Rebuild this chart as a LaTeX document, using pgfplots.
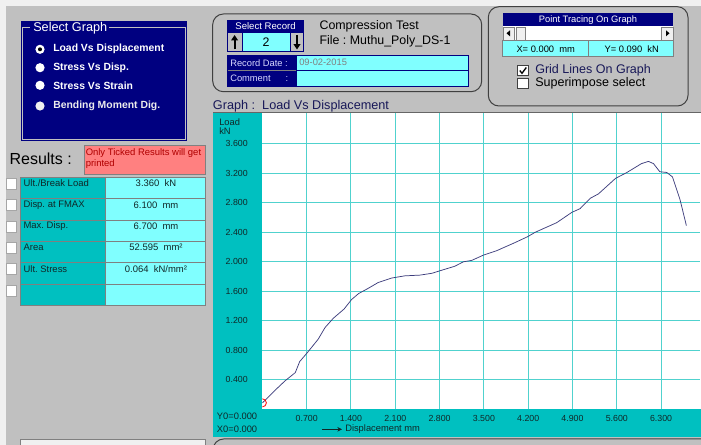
\documentclass[border=0pt]{standalone}
\usepackage{pgfplots}
\pgfplotsset{compat=1.18}
\usepackage{fontspec}
\setmainfont{Liberation Sans}
\usetikzlibrary{arrows.meta}
\frenchspacing

\definecolor{winbg}{RGB}{192,192,192}
\definecolor{winlight}{RGB}{240,240,240}
\definecolor{navy}{RGB}{0,0,128}
\definecolor{tealpanel}{RGB}{0,192,192}
\definecolor{cyanfield}{RGB}{128,255,255}
\definecolor{pinkbox}{RGB}{255,128,128}
\definecolor{gridcyan}{RGB}{80,210,206}
\definecolor{curve}{RGB}{60,60,124}
\definecolor{darktext}{RGB}{16,40,40}
\definecolor{frame}{RGB}{64,64,64}
\definecolor{graphtitle}{RGB}{24,24,88}
\definecolor{note}{RGB}{176,0,0}

\newcommand{\fs}[1]{\fontsize{#1}{#1}\selectfont}

\begin{document}
\begin{tikzpicture}[x=0.75pt,y=-0.75pt]
\useasboundingbox (0,0) rectangle (701,445);
\clip (0,0) rectangle (701,445);
\fill[winlight] (0,0) rectangle (701,445);
\fill[winbg] (6,6) rectangle (701,445);

% ---- Select Graph group ----
\fill[navy] (20.7,21) rectangle (187.3,141);
\draw[winbg, line width=0.75pt] (30,28) -- (22.5,28) -- (22.5,139.3) -- (185.5,139.3) -- (185.5,28) -- (109,28);
\node[anchor=west, text=white, inner sep=0pt, font=\fs{9.5}] at (33,28) {Select Graph};
\foreach \yy/\lbl in {49.3/Load Vs Displacement, 67.7/Stress Vs Disp., 85.3/Stress Vs Strain}{
  \fill[white] (40,\yy) circle (4.6);
  \node[anchor=west, text=white, inner sep=0pt, font=\fs{7.8}\bfseries] at (53,\yy) {\lbl};
}
\fill[black] (40,49.3) circle (2);
\fill[white!88!gray] (40,106) circle (4.6);
\node[anchor=west, text=white!85!gray, inner sep=0pt, font=\fs{7.8}\bfseries] at (53,106) {Bending Moment Dig.};

% ---- Record panel ----
\draw[frame, rounded corners=8pt, line width=0.75pt] (212.7,14) rectangle (481.7,91.7);
\fill[navy] (226.7,20) rectangle (304.3,51.7);
\node[text=white, inner sep=0pt, font=\fs{7.2}] at (265.5,26.2) {Select Record};
\fill[winbg] (227.7,33.3) rectangle (241.5,50.7);
\fill[cyanfield] (242.5,33.3) rectangle (289.5,50.7);
\fill[winbg] (290.5,33.3) rectangle (303.3,50.7);
\draw[-{Triangle[length=4pt,width=5pt]}, line width=1.4pt] (234.6,49.5) -- (234.6,35);
\draw[-{Triangle[length=4pt,width=5pt]}, line width=1.4pt] (297,35) -- (297,49.5);
\node[inner sep=0pt, font=\fs{9.3}] at (266,42.5) {2};
\node[anchor=west, inner sep=0pt, font=\fs{9.3}] at (319.3,26.7) {Compression Test};
\node[anchor=west, inner sep=0pt, font=\fs{9.3}] at (319.3,41) {File : Muthu\_Poly\_DS-1};
\fill[navy] (226.7,55.3) rectangle (468.7,87.5);
\fill[cyanfield] (297.3,56.3) rectangle (467.7,70.2);
\fill[cyanfield] (297.3,71.2) rectangle (467.7,86.5);
\draw[gray] (227.7,70.7) -- (296.3,70.7);
\node[anchor=west, text=white!85!blue, inner sep=0pt, font=\fs{7}] at (230,62.7) {Record Date :};
\node[anchor=west, text=white!85!blue, inner sep=0pt, font=\fs{7}] at (230,78.7) {Comment\hspace{1.6em}:};
\node[anchor=west, text=gray, inner sep=0pt, font=\fs{7}] at (299,62.7) {09-02-2015};

% ---- Point tracing panel ----
\draw[frame, rounded corners=8pt, line width=0.75pt] (488.3,6.7) rectangle (688,106);
\fill[navy] (502.7,13.3) rectangle (673.3,26);
\node[text=white, inner sep=0pt, font=\fs{7}] at (588,19.7) {Point Tracing On Graph};
\fill[white] (502.7,26) rectangle (673.3,40.7);
\filldraw[fill=winlight, draw=gray] (503.2,26.8) rectangle (514.5,39.9);
\filldraw[fill=winlight, draw=gray] (516.7,26.8) rectangle (525,39.9);
\filldraw[fill=winlight, draw=gray] (661,26.8) rectangle (672.8,39.9);
\fill (506.5,33.3) -- (510,30.3) -- (510,36.3) -- cycle;
\fill (669.5,33.3) -- (666,30.3) -- (666,36.3) -- cycle;
\fill[cyanfield] (502.7,40.7) rectangle (673.3,56.7);
\draw[gray] (502.7,40.7) rectangle (673.3,56.7);
\draw[gray] (588.3,40.7) -- (588.3,56.7);
\node[inner sep=0pt, font=\fs{7}] at (545.7,49) {X= 0.000\ \ mm};
\node[inner sep=0pt, font=\fs{7}] at (631.7,49) {Y= 0.090\ \ kN};
\filldraw[fill=white, draw=frame] (517.7,65.7) rectangle (528.3,75.7);
\draw[line width=1pt] (519.8,70.5) -- (522,73.3) -- (526.3,67.5);
\node[anchor=west, text=graphtitle, inner sep=0pt, font=\fs{9.4}] at (535,70.7) {Grid Lines On Graph};
\filldraw[fill=white, draw=frame] (517.7,78.2) rectangle (528.3,88.2);
\node[anchor=west, inner sep=0pt, font=\fs{9.4}] at (535,83) {Superimpose select};

% ---- Results ----
\node[anchor=west, inner sep=0pt, font=\fs{12}] at (9.3,158.3) {Results :};
\filldraw[fill=pinkbox, draw=gray] (84,145.7) rectangle (205,174.3);
\node[anchor=west, text=note, inner sep=0pt, font=\fs{7.1}] at (85.5,152.7) {Only Ticked Results will get};
\node[anchor=west, text=note, inner sep=0pt, font=\fs{7.1}] at (85.5,164) {printed};
\fill[tealpanel] (20.7,177.3) rectangle (105.7,305.7);
\fill[cyanfield] (105.7,177.3) rectangle (205,305.7);
\draw[gray] (20.7,177.3) rectangle (205,305.7);
\draw[gray] (105.7,177.3) -- (105.7,305.7);
\foreach \yy in {198.3,220,241,262.7,284}{\draw[gray] (20.7,\yy) -- (205,\yy);}
\foreach \yy in {177.3,198.3,220,241,262.7,284}{
  \filldraw[fill=white, draw=gray!70] (6.7,\yy+1) rectangle (16.7,\yy+12);
}
\foreach \yy/\lbl/\val in {183.5/{Ult./Break Load}/{3.360\ \ kN}, 205/{Disp. at FMAX}/{6.100\ \ mm}, 226.5/{Max. Disp.}/{6.700\ \ mm}, 247.5/{Area}/{52.595\ \ mm²}, 269/{Ult. Stress}/{0.064\ \ kN/mm²}}{
  \node[anchor=west, text=darktext, inner sep=0pt, font=\fs{7.1}] at (23.3,\yy) {\lbl};
  \node[text=darktext, inner sep=0pt, font=\fs{7.1}] at (156,\yy) {\val};
}
\fill[winlight] (20,439.3) rectangle (205,450);
\draw[gray] (20,450) -- (20,439.3) -- (205,439.3) -- (205,450);

% ---- Graph panel ----
\node[anchor=west, text=graphtitle, inner sep=0pt, font=\fs{9.5}] at (212.7,106.7) {Graph :\ \ Load Vs Displacement};
\fill[tealpanel] (213,112.5) rectangle (701,436.7);
\draw[gray!80!black] (213,112) -- (701,112);
\fill[white] (262.4,113.5) rectangle (701,409.5);
\node[anchor=west, text=darktext, inner sep=0pt, font=\fs{7}] at (219,122.3) {Load};
\node[anchor=west, text=darktext, inner sep=0pt, font=\fs{7}] at (219,131.3) {kN};
\node[anchor=west, text=darktext, inner sep=0pt, font=\fs{7}] at (216.7,416.7) {Y0=0.000};
\node[anchor=west, text=darktext, inner sep=0pt, font=\fs{7}] at (216.7,429.3) {X0=0.000};
\draw[-{Stealth[length=3.5pt,width=3.5pt]}, darktext, line width=0.5pt] (322,429.3) -- (342,429.3);
\node[anchor=west, text=darktext, inner sep=0pt, font=\fs{7}] at (345,429.3) {Displacement mm};
\draw[frame, rounded corners=8pt, line width=0.75pt] (213,439) rectangle (720,470);

% the axis sits in a plain pt frame: lower-left corner at pixel (262.4, 409.5)
\begin{scope}[x=1pt,y=1pt]
\begin{axis}[
  at={(196.8pt,-307.125pt)}, anchor=south west,
  scale only axis, width=328.2pt, height=222.4pt,
  xmin=0, xmax=6.915, ymin=0, ymax=4.016,
  axis line style={draw=none}, tick style={draw=none},
  grid=major, grid style={gridcyan, line width=0.75pt},
  xtick={0.7,1.4,2.1,2.8,3.5,4.2,4.9,5.6,6.3},
  ytick={0.4,0.8,1.2,1.6,2.0,2.4,2.8,3.2,3.6},
  /pgf/number format/assume math mode=true,
  /pgf/number format/fixed, /pgf/number format/fixed zerofill,
  /pgf/number format/precision=3,
  ticklabel style={font=\fs{6.6}, text=darktext, inner sep=0pt},
  yticklabel style={xshift=-10.8pt},
  xticklabel style={yshift=-4.2pt},
  clip marker paths=true,
]
\addplot[curve, line width=0.55pt] coordinates {
 (0,0.09) (0.20,0.26) (0.36,0.39) (0.52,0.50) (0.59,0.65) (0.70,0.76)
 (0.88,0.95) (0.99,1.11) (1.12,1.235) (1.29,1.36) (1.41,1.49) (1.52,1.57)
 (1.67,1.64) (1.83,1.72) (2.04,1.78) (2.25,1.81) (2.49,1.82) (2.68,1.845)
 (2.81,1.88) (3.04,1.94) (3.175,2.00) (3.31,2.02) (3.49,2.09) (3.70,2.15)
 (3.99,2.26) (4.19,2.34) (4.31,2.40) (4.65,2.53) (4.89,2.67) (5.02,2.72)
 (5.18,2.86) (5.31,2.92) (5.58,3.13) (5.76,3.21) (5.99,3.33) (6.10,3.36)
 (6.18,3.33) (6.28,3.22) (6.39,3.21) (6.48,3.15) (6.60,2.84) (6.70,2.49)
};
\addplot[only marks, mark=o, mark size=3pt, red, mark options={line width=0.6pt}] coordinates {(0,0.09)};
\end{axis}
\end{scope}
\end{tikzpicture}
\end{document}
